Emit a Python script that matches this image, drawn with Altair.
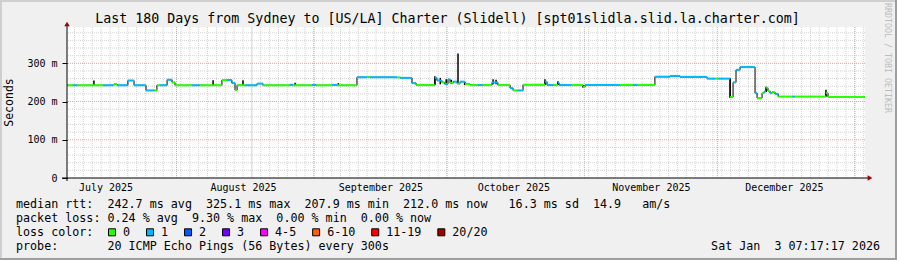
import altair as alt
import pandas as pd

# ---------------- data ----------------
seg_start = [
    "2025-07-07 07:17", "2025-07-08 16:00", "2025-07-09 13:00", "2025-07-15 10:00",
    "2025-07-17 16:00", "2025-07-17 22:00", "2025-07-18 14:00", "2025-07-21 01:00",
    "2025-07-22 10:00", "2025-07-25 03:00", "2025-07-27 00:00", "2025-07-27 14:00",
    "2025-07-28 07:00", "2025-07-29 21:00", "2025-07-31 00:00", "2025-07-31 16:00",
    "2025-08-04 12:00", "2025-08-06 07:00", "2025-08-11 06:00", "2025-08-12 09:00",
    "2025-08-13 12:00", "2025-08-14 05:00", "2025-08-14 16:00", "2025-08-16 11:00",
    "2025-08-19 04:00", "2025-08-20 12:00", "2025-08-26 14:00", "2025-08-27 06:00",
    "2025-08-31 14:00", "2025-09-01 12:00", "2025-09-05 02:00", "2025-09-06 05:00",
    "2025-09-10 17:00", "2025-09-12 23:00", "2025-09-13 16:00", "2025-09-19 18:00",
    "2025-09-20 12:00", "2025-09-23 03:00", "2025-09-24 01:00", "2025-09-28 07:00",
    "2025-09-28 18:00", "2025-09-29 21:00", "2025-09-30 12:00", "2025-10-01 06:00",
    "2025-10-01 17:00", "2025-10-02 10:00", "2025-10-03 07:00", "2025-10-03 23:00",
    "2025-10-05 02:00", "2025-10-06 05:00", "2025-10-08 00:00", "2025-10-09 00:00",
    "2025-10-11 04:00", "2025-10-12 12:00", "2025-10-15 06:00", "2025-10-15 22:00",
    "2025-10-17 00:00", "2025-10-18 04:00", "2025-10-23 03:00", "2025-10-23 14:00",
    "2025-10-25 00:00", "2025-10-26 01:00", "2025-10-26 07:00", "2025-10-29 00:00",
    "2025-10-31 17:00", "2025-11-01 04:00", "2025-11-09 01:00", "2025-11-12 00:00",
    "2025-11-13 00:00", "2025-11-16 22:00", "2025-11-20 08:00", "2025-11-22 14:00",
    "2025-11-28 16:00", "2025-11-30 12:00", "2025-12-01 06:00", "2025-12-03 21:00",
    "2025-12-04 13:00", "2025-12-05 05:00", "2025-12-06 03:00", "2025-12-09 12:00",
    "2025-12-09 23:00", "2025-12-11 02:00", "2025-12-11 13:00", "2025-12-12 00:00",
    "2025-12-12 10:00", "2025-12-12 21:00", "2025-12-13 08:00", "2025-12-14 00:00",
    "2025-12-14 17:00", "2025-12-18 00:00", "2025-12-18 12:00", "2025-12-25 12:00",
    "2025-12-25 23:00",
]
seg_ms = [
    242.5, 242.5, 242.5, 242.5,
    242.5, 245.5, 242.5, 255.0,
    242.5, 229.0, 229.0, 242.5,
    242.5, 257.0, 250.0, 242.5,
    242.5, 242.5, 256.0, 256.0,
    248.0, 230.0, 242.5, 242.5,
    247.0, 242.5, 244.0, 242.5,
    243.5, 242.5, 243.5, 242.5,
    263.5, 264.0, 263.5, 263.0,
    262.0, 248.0, 243.0, 262.0,
    255.0, 250.0, 246.0, 258.0,
    249.0, 252.0, 247.0, 252.0,
    246.0, 243.0, 243.0, 243.0,
    250.0, 243.0, 235.0, 229.0,
    229.0, 244.0, 252.0, 243.0,
    243.0, 249.0, 243.0, 243.0,
    238.0, 243.5, 243.5, 243.5,
    243.5, 265.0, 267.0, 264.5,
    260.0, 260.0, 260.0, 212.0,
    250.0, 283.0, 290.0, 222.0,
    209.0, 222.0, 226.0, 236.0,
    228.0, 222.0, 225.0, 220.0,
    213.0, 213.0, 213.0, 222.0,
    212.0,
]
seg_loss = [
    "0", "1", "0", "1",
    "0", "0", "1", "1",
    "1", "1", "0", "0",
    "1", "1", "0", "0",
    "1", "0", "0", "1",
    "1", "0", "0", "1",
    "1", "0", "1", "0",
    "1", "0", "1", "0",
    "1", "0", "1", "0",
    "1", "1", "0", "1",
    "1", "0", "1", "1",
    "0", "1", "0", "1",
    "0", "0", "1", "0",
    "1", "0", "1", "0",
    "1", "0", "1", "1",
    "0", "1", "1", "0",
    "0", "1", "0", "1",
    "0", "1", "1", "1",
    "1", "0", "1", "0",
    "1", "1", "1", "1",
    "0", "0", "1", "0",
    "0", "1", "0", "1",
    "0", "1", "0", "0",
    "0",
]
end_time = "2026-01-03 07:17"

smoke_at = [
    "2025-07-13 09:00", "2025-08-09 06:00", "2025-08-16 00:00", "2025-08-27 18:00",
    "2025-09-06 12:00", "2025-09-28 07:00", "2025-09-29 12:00", "2025-09-30 20:00",
    "2025-10-02 00:00", "2025-10-03 12:00", "2025-10-05 00:00", "2025-10-11 10:00",
    "2025-10-12 02:00", "2025-10-23 03:00", "2025-10-26 01:00", "2025-10-31 17:00",
    "2025-11-20 20:00", "2025-11-21 12:00", "2025-11-22 04:00", "2025-12-03 21:00",
    "2025-12-12 00:00", "2025-12-25 12:00",
]
smoke_lo = [242, 242, 242, 242, 242, 244, 245, 244, 246, 248, 243, 245,
            245, 243, 243, 236, 264, 264, 264, 209, 225, 213]
smoke_hi = [255, 256, 256, 249, 248, 266, 262, 258, 257, 326, 250, 258,
            257, 258, 253, 243, 269, 268, 269, 260, 239, 231]

loss_labels = ["0", "1", "2", "3", "4-5", "6-10", "11-19", "20/20"]
loss_colors = ["#26ff00", "#00b8ff", "#0059ff", "#7000ff", "#ff00ff",
               "#ff5e00", "#ff0000", "#a10000"]

y_major = [0, 100, 200, 300]
y_minor = [20, 40, 60, 80, 120, 140, 160, 180, 220, 240, 260, 280,
           320, 340, 360, 380]
month_starts = ["2025-08-01", "2025-09-01", "2025-10-01", "2025-11-01",
                "2025-12-01", "2026-01-01"]
month_label_at = ["2025-07-16", "2025-08-16", "2025-09-16", "2025-10-16",
                  "2025-11-16", "2025-12-16"]
solid_mark_at = ["2025-08-18"]

title_text = "Last 180 Days from Sydney to [US/LA] Charter (Slidell) [spt01slidla.slid.la.charter.com]"
footer_lines = [
    "median rtt:  242.7 ms avg  325.1 ms max  207.9 ms min  212.0 ms now   16.3 ms sd  14.9   am/s",
    "packet loss: 0.24 % avg  9.30 % max  0.00 % min  0.00 % now",
    "loss color:",
    "probe:       20 ICMP Echo Pings (56 Bytes) every 300s",
]
stamp_text = "Sat Jan  3 07:17:17 2026"
watermark = "RRDTOOL / TOBI OETIKER"

# ---------------- helpers ----------------
def iso(s):
    return pd.to_datetime(s).strftime("%Y-%m-%dT%H:%M:%SZ")

def nb(s):
    return s.replace(" ", "\u00a0")

W, H = 798, 151
FONT = "DejaVu Sans Mono"
CHAR = 7.02          # advance of one footer character (px)

segs = pd.DataFrame({
    "start": [iso(s) for s in seg_start],
    "end": [iso(s) for s in seg_start[1:] + [end_time]],
    "ms": seg_ms,
    "loss": seg_loss,
})
steps = pd.DataFrame({
    "t": [iso(s) for s in seg_start + [end_time]],
    "ms": seg_ms + [seg_ms[-1]],
})
smoke = pd.DataFrame({"t": [iso(s) for s in smoke_at], "lo": smoke_lo, "hi": smoke_hi})

vgrid = pd.DataFrame({"t": [d.strftime("%Y-%m-%dT%H:%M:%SZ")
                            for d in pd.date_range("2025-07-09", "2026-01-03", freq="2D")]})
mgrid = pd.DataFrame({"t": [iso(s) for s in month_starts]})
sgrid = pd.DataFrame({"t": [iso(s) for s in solid_mark_at]})
hminor = pd.DataFrame({"v": y_minor})
hmajor = pd.DataFrame({"v": y_major[1:]})
one = pd.DataFrame({"a": [0]})

x_scale = alt.Scale(type="utc",
                    domain=[alt.DateTime(year=2025, month=7, date=7, hours=7, minutes=17, utc=True),
                            alt.DateTime(year=2026, month=1, date=3, hours=7, minutes=17, utc=True)])
y_scale = alt.Scale(domain=[0, 395], nice=False, zero=True)
c_scale = alt.Scale(domain=loss_labels, range=loss_colors)

x_axis = alt.Axis(values=[alt.DateTime(year=int(s[:4]), month=int(s[5:7]), date=int(s[8:10]), utc=True)
                          for s in month_label_at],
                  labelExpr="utcFormat(datum.value, '%B %Y')", ticks=False, domain=False,
                  grid=False, labelPadding=4, labelFont=FONT, labelFontSize=10,
                  labelColor="black", title=None, labelAlign="center")
y_axis = alt.Axis(values=y_major, labelExpr="datum.value == 0 ? '0' : datum.value + ' m'",
                  grid=False, domain=False, ticks=True, tickSize=5, tickColor="black",
                  labelPadding=5, labelFont=FONT, labelFontSize=10, labelColor="black",
                  title=None)

X = lambda f: alt.X(f, type="temporal", scale=x_scale, axis=x_axis)
Y = lambda f: alt.Y(f, type="quantitative", scale=y_scale, axis=y_axis)

# ---------------- frame ----------------
frame = [
    alt.Chart(one).mark_rect(color="#cfcfcf").encode(
        x=alt.value(-67), x2=alt.value(W + 32), y=alt.value(-27), y2=alt.value(-25)),
    alt.Chart(one).mark_rect(color="#cfcfcf").encode(
        x=alt.value(-67), x2=alt.value(-65), y=alt.value(-27), y2=alt.value(H + 82)),
    alt.Chart(one).mark_rect(color="#9e9e9e").encode(
        x=alt.value(-67), x2=alt.value(W + 32), y=alt.value(H + 80), y2=alt.value(H + 82)),
    alt.Chart(one).mark_rect(color="#9e9e9e").encode(
        x=alt.value(W + 30), x2=alt.value(W + 32), y=alt.value(-27), y2=alt.value(H + 82)),
]

# ---------------- grids ----------------
grid_minor_h = alt.Chart(hminor).mark_rule(color="#d4d4d4", strokeDash=[1, 1], strokeWidth=1).encode(y=Y("v"))
grid_minor_v = alt.Chart(vgrid).mark_rule(color="#d4d4d4", strokeDash=[1, 1], strokeWidth=1).encode(x=X("t"))
grid_solid_v = alt.Chart(sgrid).mark_rule(color="#dadada", strokeWidth=1).encode(x=X("t"))
grid_major_h = alt.Chart(hmajor).mark_rule(color="#f09a9a", strokeDash=[1, 1], strokeWidth=1).encode(y=Y("v"))
grid_major_v = alt.Chart(mgrid).mark_rule(color="#f09a9a", strokeDash=[1, 1], strokeWidth=1).encode(x=X("t"))

# ---------------- data marks ----------------
step_line = alt.Chart(steps).mark_line(color="black", strokeWidth=1, interpolate="step-after").encode(
    x=X("t"), y=Y("ms"))
smoke_rules = alt.Chart(smoke).mark_rule(color="black", strokeWidth=1.5).encode(
    x=X("t"), y=Y("lo"), y2="hi:Q")
median = alt.Chart(segs).mark_rule(strokeWidth=2, strokeCap="butt").encode(
    x=X("start"), x2="end:T", y=Y("ms"),
    color=alt.Color("loss:N", scale=c_scale, legend=None))

# ---------------- loss colour key (rrdtool style) ----------------
LEG_Y = 205.3
key = []
pos = 108 - 67
for lab, col in zip(loss_labels, loss_colors):
    key.append(alt.Chart(one).mark_square(filled=True, color=col, stroke="black", strokeWidth=1,
                                          size=49, opacity=1).encode(
        x=alt.value(pos + 4), y=alt.value(LEG_Y)))
    key.append(alt.Chart(pd.DataFrame({"s": [lab]})).mark_text(
        font=FONT, fontSize=11.7, align="left", baseline="middle", color="black").encode(
        x=alt.value(pos + 15), y=alt.value(LEG_Y), text="s:N"))
    pos += 15 + CHAR * len(lab) + 16

# ---------------- axes decorations ----------------
axes = [
    alt.Chart(one).mark_rule(color="black", strokeWidth=1).encode(
        x=alt.value(-5), x2=alt.value(W + 3), y=alt.value(H)),
    alt.Chart(one).mark_rule(color="black", strokeWidth=1).encode(
        x=alt.value(0), y=alt.value(-2), y2=alt.value(H + 3)),
    alt.Chart(one).mark_point(shape="triangle-up", filled=True, color="#a00000", size=30, opacity=1).encode(
        x=alt.value(0), y=alt.value(-3)),
    alt.Chart(one).mark_point(shape="triangle-right", filled=True, color="#a00000", size=30, opacity=1).encode(
        x=alt.value(W + 5), y=alt.value(H)),
]

# ---------------- texts ----------------
def txt(s, x, y, size, align="left", angle=0, color="black", baseline="middle"):
    kw = dict(font=FONT, fontSize=size, align=align, baseline=baseline, color=color)
    if angle:
        kw["angle"] = angle
    return alt.Chart(pd.DataFrame({"s": [nb(s)]})).mark_text(**kw).encode(
        x=alt.value(x), y=alt.value(y), text="s:N")

texts = [
    txt(title_text, 380.5, -7.7, 13.3, align="center"),
    txt("Seconds", -57, H / 2, 11.5, align="center", angle=270),
    txt(watermark, 819.7, 31, 8.3, align="center", angle=90, color="#bdbdbd"),
    txt(footer_lines[0], -51, 177.3, 11.7),
    txt(footer_lines[1], -51, 191.3, 11.7),
    txt(footer_lines[2], -51, LEG_Y, 11.7),
    txt(footer_lines[3], -51, 219.0, 11.7),
    txt(stamp_text, 813, 219.0, 11.7, align="right"),
]

chart = alt.layer(
    *frame, grid_minor_h, grid_minor_v, grid_solid_v, grid_major_h, grid_major_v,
    step_line, smoke_rules, median, *axes, *key, *texts
).properties(
    width=W, height=H,
    padding={"left": 67, "top": 27, "right": 32, "bottom": 82},
    autosize=alt.AutoSizeParams(type="none"),
    background="#f0f0f0",
).configure_view(stroke=None, fill="white").configure_axis(labelFont=FONT)

chart.save("out.html", embed_options={"renderer": "svg", "actions": False})
